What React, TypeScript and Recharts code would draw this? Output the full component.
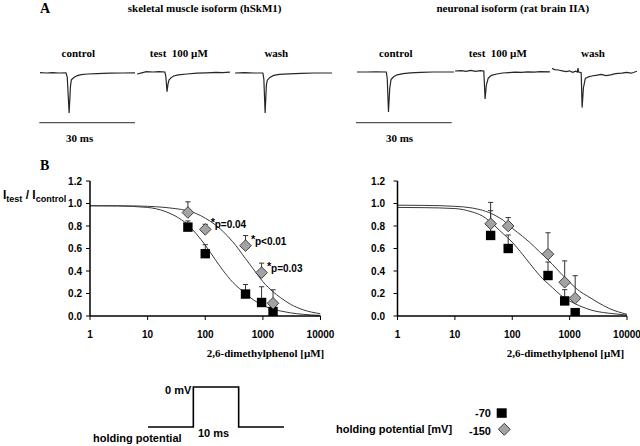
import React from 'react';
import { ComposedChart, LineChart, Line, Scatter, ErrorBar, XAxis, YAxis } from 'recharts';

// ---------- Panel B data ----------
const concTicks = [1, 10, 100, 1000, 10000];
const ratioTicks = [0, 0.2, 0.4, 0.6, 0.8, 1.0, 1.2];

const leftConc = [50, 100, 500, 950, 1500];
const leftM70 = [0.79, 0.554, 0.195, 0.12, 0.04];
const leftM70Err = [0.055, 0.08, 0.085, 0.14, 0];
const leftM150 = [0.92, 0.77, 0.625, 0.385, 0.113];
const leftM150Err = [0.095, 0.045, 0.09, 0.085, 0.12];
const leftPValues = ['', 'p=0.04', 'p<0.01', 'p=0.03', ''];

const rightConc = [42, 85, 420, 820, 1250];
const rightM70 = [0.716, 0.6, 0.36, 0.134, 0.03];
const rightM70Err = [0.22, 0.12, 0.12, 0.1, 0];
const rightM150 = [0.82, 0.8, 0.55, 0.3, 0.158];
const rightM150Err = [0.19, 0.075, 0.19, 0.19, 0.2];
const rightPValues = ['', '', '', '', ''];

const curveConc = [1, 3, 10, 20, 30, 50, 70, 100, 150, 200, 300, 500, 700, 1000, 1500, 2000, 3000, 5000, 10000];
const leftCurveM70 = [0.98, 0.978, 0.965, 0.93, 0.89, 0.81, 0.73, 0.63, 0.5, 0.41, 0.3, 0.2, 0.14, 0.095, 0.06, 0.045, 0.028, 0.015, 0.005];
const leftCurveM150 = [0.98, 0.98, 0.975, 0.965, 0.955, 0.935, 0.91, 0.87, 0.81, 0.755, 0.66, 0.51, 0.41, 0.305, 0.215, 0.165, 0.105, 0.055, 0.02];
const rightCurveM70 = [0.965, 0.963, 0.955, 0.925, 0.89, 0.8, 0.73, 0.656, 0.55, 0.47, 0.36, 0.253, 0.185, 0.134, 0.09, 0.065, 0.04, 0.024, 0.008];
const rightCurveM150 = [0.985, 0.983, 0.975, 0.96, 0.94, 0.895, 0.85, 0.78, 0.71, 0.656, 0.57, 0.46, 0.38, 0.3, 0.22, 0.18, 0.125, 0.065, 0.015];

// ---------- Panel A traces (time ms, normalised current) ----------
const traceLeftControl: [number, number][] = [[0, 0.01], [2, 0], [4, 0.01], [6, 0], [8.2, 0.005], [8.6, -0.1], [9.2, -1.0], [9.6, -0.35], [9.9, -0.17], [10.6, -0.12], [11.6, -0.07], [13, -0.04], [15, -0.025], [18, -0.015], [22, -0.005], [26, 0], [30, 0.005]];
const traceLeftTest: [number, number][] = [[0, -0.05], [1.5, -0.02], [3, 0.01], [5, 0], [7, 0.01], [8.8, 0], [9.1, -0.1], [9.5, -0.49], [9.8, -0.3], [10.1, -0.2], [10.8, -0.14], [11.6, -0.1], [13, -0.07], [15.8, -0.05], [19, -0.03], [22, -0.02], [25, -0.01], [27, -0.015], [29.4, -0.005]];
const traceLeftWash: [number, number][] = [[0, 0], [3, 0.01], [6, 0], [8.8, 0], [9.1, -0.15], [9.5, -1.0], [9.9, -0.3], [10.2, -0.18], [11, -0.11], [12.2, -0.06], [14, -0.035], [17, -0.02], [21, -0.01], [25, 0], [30.6, 0]];
const traceRightControl: [number, number][] = [[0, 0], [3, 0], [6, 0.005], [9.2, 0], [9.5, -0.15], [9.9, -1.0], [10.3, -0.4], [10.7, -0.19], [11.5, -0.12], [12.6, -0.07], [14.5, -0.04], [16.8, -0.02], [20, -0.01], [24, 0], [30.5, 0]];
const traceRightTest: [number, number][] = [[0, 0], [2, 0.01], [3.5, -0.01], [5, 0.015], [6.5, -0.01], [8, 0.01], [9.1, 0], [9.5, -0.7], [9.9, -0.35], [10.5, -0.18], [11.5, -0.11], [13.2, -0.075], [15, -0.05], [17, -0.04], [19, -0.03], [21, -0.035], [23, -0.02], [25, -0.03], [27, -0.015], [30, -0.02]];
const traceRightWash: [number, number][] = [[0, 0.09], [0.8, 0.06], [2, 0.05], [3.2, 0.03], [4.5, 0.01], [5.5, 0.03], [6.5, -0.01], [7.5, 0.02], [8, 0], [8.2, 0.1], [8.4, 0], [9.2, -0.02], [9.5, -0.89], [9.9, -0.4], [10.5, -0.16], [11.5, -0.12], [12.5, -0.1], [14.2, -0.08], [15.5, -0.06], [17, -0.09], [18.5, -0.07], [20, -0.04], [22, -0.03], [23.5, -0.01], [25, -0.03], [26.8, 0.02]];

const traceLabels = ['control', 'test  100 µM', 'wash'];

// voltage protocol (ms, relative level: 0 = 0 mV, -1 = holding)
const protocolTime = [0, 10, 10, 20, 20, 30];
const protocolLevel = [-1, -1, 0, 0, -1, -1];

const SANS = 'Liberation Sans, Arial, sans-serif';
const SERIF = 'Liberation Serif, Times New Roman, serif';

const pts = (xs: number[], ys: number[], errs?: number[], notes?: string[]) =>
  xs.map((x, i) => ({ x, y: ys[i], err: [0, errs ? errs[i] : 0], note: notes ? notes[i] : '' }));

const SquareShape = (props: any) => {
  const { cx, cy } = props;
  if (cx == null || cy == null) return null;
  return <rect x={cx - 4.7} y={cy - 4.7} width={9.4} height={9.4} fill="#000" />;
};

const DiamondShape = (props: any) => {
  const { cx, cy, payload } = props;
  if (cx == null || cy == null) return null;
  const r = 5.8;
  const note = payload && payload.note;
  return (
    <g>
      <path d={`M${cx},${cy - r} L${cx + r},${cy} L${cx},${cy + r} L${cx - r},${cy} Z`} fill="#a3a3a3" stroke="#404040" strokeWidth={1} />
      {note ? (
        <g>
          <text x={cx + 5.5} y={cy - 3} fontFamily={SANS} fontWeight="bold" fontSize={11} fill="#000">*</text>
          <text x={cx + 9.5} y={cy - 1} fontFamily={SANS} fontWeight="bold" fontSize={10} fill="#000">{note}</text>
        </g>
      ) : null}
    </g>
  );
};

const tickStyle = { fontSize: 10, fontWeight: 'bold', fill: '#000', fontFamily: SANS };

function DoseChart(props: {
  left: number; width: number; yAxisWidth: number; marginRight: number; yTickMargin: number;
  conc: number[]; m70: number[]; m70Err: number[]; m150: number[]; m150Err: number[]; notes: string[];
  curve70: number[]; curve150: number[];
}) {
  const c70 = pts(curveConc, props.curve70);
  const c150 = pts(curveConc, props.curve150);
  const s70 = pts(props.conc, props.m70, props.m70Err);
  const s150 = pts(props.conc, props.m150, props.m150Err, props.notes);
  return (
    <div style={{ position: 'absolute', left: props.left, top: 170 }}>
      <ComposedChart width={props.width} height={190} margin={{ top: 11, right: props.marginRight, bottom: 0, left: 0 }}>
        <XAxis type="number" dataKey="x" scale="log" domain={[1, 10000]} ticks={concTicks} allowDataOverflow
          height={44} tickSize={4} tickMargin={10.5} tick={tickStyle}
          axisLine={{ stroke: '#000', strokeWidth: 1.5 }} tickLine={{ stroke: '#000', strokeWidth: 1 }} />
        <YAxis type="number" dataKey="y" domain={[0, 1.2]} ticks={ratioTicks} allowDataOverflow
          width={props.yAxisWidth} tickSize={4} tickMargin={props.yTickMargin} tick={tickStyle}
          tickFormatter={(v: number) => v.toFixed(1)}
          axisLine={{ stroke: '#000', strokeWidth: 1.5 }} tickLine={{ stroke: '#000', strokeWidth: 1 }} />
        <Line data={c70} dataKey="y" type="monotone" stroke="#3a3a3a" strokeWidth={1} dot={false} isAnimationActive={false} />
        <Line data={c150} dataKey="y" type="monotone" stroke="#3a3a3a" strokeWidth={1} dot={false} isAnimationActive={false} />
        <Scatter data={s70} shape={SquareShape} isAnimationActive={false}>
          <ErrorBar dataKey="err" direction="y" width={2.6} stroke="#333" strokeWidth={1} />
        </Scatter>
        <Scatter data={s150} shape={DiamondShape} isAnimationActive={false}>
          <ErrorBar dataKey="err" direction="y" width={2.6} stroke="#333" strokeWidth={1} />
        </Scatter>
      </ComposedChart>
    </div>
  );
}

function Trace(props: { data: [number, number][]; left: number; top: number }) {
  const d = props.data.map(([t, v]) => ({ t, v }));
  const tMax = props.data[props.data.length - 1][0];
  const w = Math.round(tMax * 95 / 30);
  return (
    <div style={{ position: 'absolute', left: props.left, top: props.top }}>
      <LineChart width={w} height={60} data={d} margin={{ top: 0, right: 0, bottom: 0, left: 0 }}>
        <XAxis type="number" dataKey="t" domain={[0, tMax]} hide />
        <YAxis type="number" domain={[-1.2, 0.3]} hide allowDataOverflow />
        <Line dataKey="v" type="linear" stroke="#262626" strokeWidth={1.2} dot={false} isAnimationActive={false} />
      </LineChart>
    </div>
  );
}

export default function App() {
  const protocol = protocolTime.map((t, i) => ({ t, v: protocolLevel[i] }));
  return (
    <div style={{ position: 'absolute', left: 0, top: 0, width: 640, height: 446, background: '#fff', overflow: 'hidden', fontFamily: SANS }}>
      <Trace data={traceLeftControl} left={40} top={61} />
      <Trace data={traceLeftTest} left={137} top={60} />
      <Trace data={traceLeftWash} left={235} top={61} />
      <Trace data={traceRightControl} left={357} top={60} />
      <Trace data={traceRightTest} left={455} top={59} />
      <Trace data={traceRightWash} left={552} top={60} />

      <DoseChart left={0} width={340} yAxisWidth={90} marginRight={19.5} yTickMargin={4}
        conc={leftConc} m70={leftM70} m70Err={leftM70Err} m150={leftM150} m150Err={leftM150Err} notes={leftPValues}
        curve70={leftCurveM70} curve150={leftCurveM150} />
      <DoseChart left={320} width={320} yAxisWidth={77.5} marginRight={13} yTickMargin={8.5}
        conc={rightConc} m70={rightM70} m70Err={rightM70Err} m150={rightM150} m150Err={rightM150Err} notes={rightPValues}
        curve70={rightCurveM70} curve150={rightCurveM150} />

      <div style={{ position: 'absolute', left: 148, top: 381.7 }}>
        <LineChart width={136} height={50} data={protocol} margin={{ top: 0, right: 0, bottom: 0, left: 0 }}>
          <XAxis type="number" dataKey="t" domain={[0, 30]} hide />
          <YAxis type="number" domain={[-1.125, 0.125]} hide />
          <Line dataKey="v" type="linear" stroke="#000" strokeWidth={1.6} dot={false} isAnimationActive={false} />
        </LineChart>
      </div>

      <svg width={640} height={446} style={{ position: 'absolute', left: 0, top: 0, pointerEvents: 'none' }}>
        <text x={40} y={13} fontFamily={SERIF} fontWeight="bold" fontSize={14}>A</text>
        <text x={204.7} y={12} textAnchor="middle" fontFamily={SERIF} fontWeight="bold" fontSize={11}>skeletal muscle isoform (hSkM1)</text>
        <text x={512.8} y={12} textAnchor="middle" fontFamily={SERIF} fontWeight="bold" fontSize={11}>neuronal isoform (rat brain IIA)</text>

        {[78.3, 178.8, 276.3].map((x, i) => (
          <text key={'l' + i} x={x} y={57} textAnchor="middle" fontFamily={SERIF} fontWeight="bold" fontSize={11} style={{ whiteSpace: 'pre' }}>{traceLabels[i]}</text>
        ))}
        {[395.8, 497.8, 593].map((x, i) => (
          <text key={'r' + i} x={x} y={57} textAnchor="middle" fontFamily={SERIF} fontWeight="bold" fontSize={11} style={{ whiteSpace: 'pre' }}>{traceLabels[i]}</text>
        ))}

        <line x1={39.3} y1={122.7} x2={135} y2={122.7} stroke="#555" strokeWidth={1.2} />
        <line x1={356} y1={122.7} x2={451.7} y2={122.7} stroke="#555" strokeWidth={1.2} />
        <text x={79.7} y={141.5} textAnchor="middle" fontFamily={SERIF} fontWeight="bold" fontSize={11}>30 ms</text>
        <text x={399.5} y={141.5} textAnchor="middle" fontFamily={SERIF} fontWeight="bold" fontSize={11}>30 ms</text>

        <text x={40} y={170} fontFamily={SERIF} fontWeight="bold" fontSize={14}>B</text>
        <text x={3} y={199} fontFamily={SANS} fontWeight="bold" fontSize={12}>
          I<tspan fontSize={9} dy={2.5}>test</tspan><tspan dy={-2.5}> / I</tspan><tspan fontSize={9} dy={2.5}>control</tspan>
        </text>

        <text x={265.5} y={357} textAnchor="middle" fontFamily={SERIF} fontWeight="bold" fontSize={11}>2,6-dimethylphenol [µM]</text>
        <text x={565.5} y={357} textAnchor="middle" fontFamily={SERIF} fontWeight="bold" fontSize={11}>2,6-dimethylphenol [µM]</text>

        <text x={165} y={394} fontFamily={SANS} fontWeight="bold" fontSize={11}>0 mV</text>
        <text x={93} y={441.5} fontFamily={SANS} fontWeight="bold" fontSize={11}>holding potential</text>
        <text x={198} y={436.5} fontFamily={SANS} fontWeight="bold" fontSize={11}>10 ms</text>

        <text x={336} y={433} fontFamily={SANS} fontWeight="bold" fontSize={11}>holding potential [mV]</text>
        <text x={491} y={417} textAnchor="end" fontFamily={SANS} fontWeight="bold" fontSize={11}>-70</text>
        <text x={491} y={435} textAnchor="end" fontFamily={SANS} fontWeight="bold" fontSize={11}>-150</text>
        <rect x={496.7} y={408.3} width={10} height={9.5} fill="#000" />
        <path d="M504.3,423.3 L510.3,429.3 L504.3,435.3 L498.3,429.3 Z" fill="#a3a3a3" stroke="#404040" strokeWidth={1} />
      </svg>
    </div>
  );
}
